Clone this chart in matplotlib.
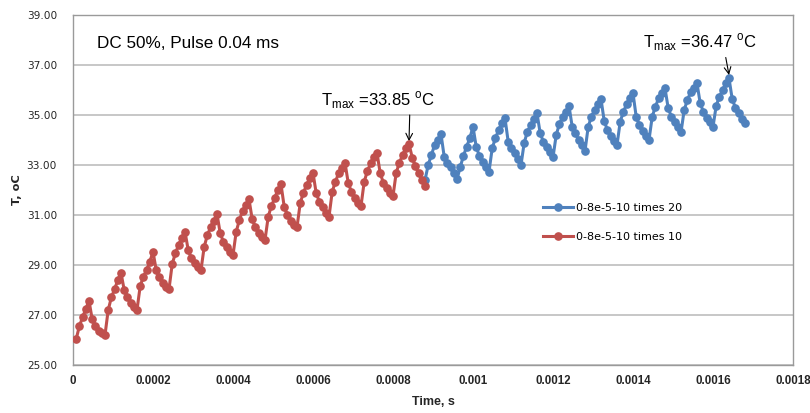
import numpy as np
import matplotlib
matplotlib.use("Agg")
import matplotlib.pyplot as plt

# Sampling step of the simulation (s) and sample indices of each run
dt = 8e-6
red_idx = np.arange(1, 111)
blue_idx = np.arange(110, 211)

# Temperature (°C), one row of ten samples per 8e-5 s pulse period
red_T = [
    26.04, 26.56, 26.91, 27.24, 27.57, 26.83, 26.56, 26.37, 26.27, 26.20,
    27.20, 27.71, 28.03, 28.40, 28.69, 28.00, 27.73, 27.49, 27.33, 27.20,
    28.16, 28.53, 28.80, 29.13, 29.53, 28.80, 28.51, 28.29, 28.13, 28.03,
    29.04, 29.47, 29.80, 30.09, 30.33, 29.60, 29.27, 29.07, 28.93, 28.80,
    29.73, 30.20, 30.51, 30.77, 31.04, 30.27, 29.93, 29.73, 29.53, 29.40,
    30.33, 30.80, 31.17, 31.40, 31.63, 30.83, 30.51, 30.29, 30.13, 30.00,
    30.93, 31.36, 31.67, 32.00, 32.23, 31.33, 31.00, 30.77, 30.60, 30.51,
    31.47, 31.89, 32.20, 32.47, 32.69, 31.87, 31.53, 31.31, 31.09, 30.93,
    31.93, 32.33, 32.67, 32.87, 33.09, 32.29, 31.93, 31.67, 31.49, 31.36,
    32.33, 32.76, 33.07, 33.31, 33.49, 32.67, 32.29, 32.07, 31.89, 31.76,
    32.69, 33.09, 33.40, 33.67, 33.85, 33.30, 32.95, 32.68, 32.42, 32.15,
]
# Second run: starting sample, then ten samples per period
blue_T = [
    32.40,
    33.00, 33.40, 33.80, 34.00, 34.24, 33.33, 33.09, 32.91, 32.67, 32.43,
    32.91, 33.36, 33.73, 34.07, 34.53, 33.73, 33.36, 33.13, 32.93, 32.73,
    33.67, 34.07, 34.40, 34.67, 34.87, 33.93, 33.67, 33.47, 33.23, 33.00,
    33.89, 34.33, 34.60, 34.83, 35.07, 34.27, 33.93, 33.73, 33.53, 33.31,
    34.20, 34.64, 34.93, 35.13, 35.36, 34.53, 34.27, 34.00, 33.80, 33.56,
    34.53, 34.93, 35.20, 35.43, 35.64, 34.76, 34.40, 34.17, 33.96, 33.80,
    34.73, 35.13, 35.43, 35.67, 35.87, 34.93, 34.60, 34.36, 34.17, 34.00,
    34.93, 35.33, 35.67, 35.89, 36.07, 35.27, 34.93, 34.73, 34.53, 34.31,
    35.20, 35.60, 35.91, 36.07, 36.27, 35.47, 35.13, 34.89, 34.71, 34.53,
    35.37, 35.73, 36.00, 36.27, 36.47, 35.64, 35.29, 35.07, 34.84, 34.67,
]

red_label = "0-8e-5-10 times 10"
blue_label = "0-8e-5-10 times 20"
x_ticks = [0, 0.0002, 0.0004, 0.0006, 0.0008, 0.001, 0.0012, 0.0014, 0.0016, 0.0018]
x_ticklabels = ["0", "0.0002", "0.0004", "0.0006", "0.0008", "0.001",
                "0.0012", "0.0014", "0.0016", "0.0018"]
y_ticks = [25, 27, 29, 31, 33, 35, 37, 39]

red_t = red_idx * dt
blue_t = blue_idx * dt

RED = "#C0504D"
BLUE = "#4F81BD"
GRID = "#BEBEBE"
TXT = "#262626"

W, H = 810, 413
fig = plt.figure(figsize=(W / 100, H / 100), dpi=100)
L, R, T, B = 73, 793, 15, 365
ax = fig.add_axes([L / W, 1 - B / H, (R - L) / W, (B - T) / H])

ax.plot(blue_t, blue_T, color=BLUE, lw=2.2, marker="o", ms=5.2,
        label=blue_label, zorder=3)
ax.plot(red_t, red_T, color=RED, lw=2.2, marker="o", ms=5.2,
        label=red_label, zorder=4)

ax.set_xlim(0, 0.0018)
ax.set_ylim(25, 39)
ax.set_xticks(x_ticks)
ax.set_xticklabels(x_ticklabels, family="Liberation Sans",
                   fontsize=8.3, fontweight="bold", color=TXT)
ax.set_yticks(y_ticks)
ax.set_yticklabels([f"{v:.2f}" for v in y_ticks], family="DejaVu Sans",
                   fontsize=7.6, color=TXT)
ax.tick_params(axis="both", length=0)
ax.tick_params(axis="y", pad=11.5)
ax.tick_params(axis="x", pad=7.5)
ax.yaxis.grid(True, color=GRID, lw=1.2)
ax.set_axisbelow(True)
for s in ax.spines.values():
    s.set_color("#9A9A9A")
    s.set_linewidth(1.0)

ax.set_xlabel("Time, s", family="Liberation Sans", fontsize=9,
              fontweight="bold", color=TXT)
ax.xaxis.set_label_coords(0.501, -0.088)
ax.set_ylabel("T, oC", family="DejaVu Sans", fontsize=8.2,
              fontweight="bold", color=TXT)
ax.yaxis.set_label_coords(-0.071, 0.5)

ax.text(0.00006, 37.84, "DC 50%, Pulse 0.04 ms", family="Liberation Sans",
        fontsize=12.3, va="center", ha="left")

ax.annotate(r"T$_{\mathregular{max}}$ =33.85 $^{\mathregular{o}}$C",
            xy=(0.00084, 33.95), xytext=(0.00062, 35.6),
            fontsize=12, family="Liberation Sans", va="center", ha="left",
            arrowprops=dict(arrowstyle="->", color="black", lw=0.8,
                            shrinkA=1, shrinkB=0,
                            relpos=(0.78, 0.0)))
ax.annotate(r"T$_{\mathregular{max}}$ =36.47 $^{\mathregular{o}}$C",
            xy=(0.00164, 36.6), xytext=(0.001425, 37.9),
            fontsize=12, family="Liberation Sans", va="center", ha="left",
            arrowprops=dict(arrowstyle="->", color="black", lw=0.8,
                            shrinkA=1, shrinkB=0,
                            relpos=(0.72, 0.0)))

leg = fig.legend(loc="center left", bbox_to_anchor=(543 / W, 1 - 222.5 / H),
                 frameon=False, handlelength=2.7,
                 handletextpad=0.3, labelspacing=1.75, borderpad=0,
                 borderaxespad=0, prop={"family": "DejaVu Sans", "size": 8})

fig.savefig("out.png", dpi=100)
